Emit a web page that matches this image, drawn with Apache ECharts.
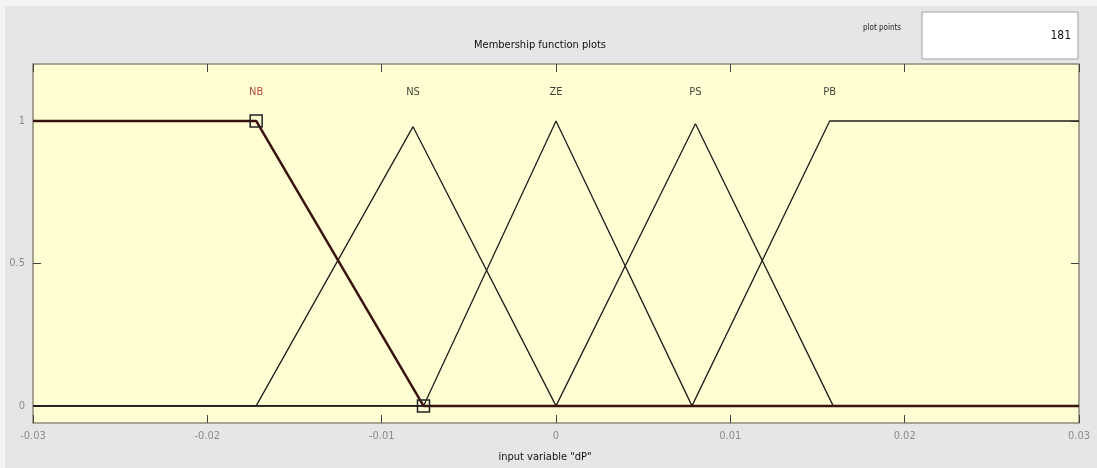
<!DOCTYPE html>
<html lang="en">
<head>
    <meta charset="UTF-8">
    <title>Membership function plots</title>
    <script src="https://cdn.jsdelivr.net/npm/echarts@6.0.0/dist/echarts.min.js"></script>
    <style>
        *{
            padding:0;
            margin:0;
        }
        html,body{
            width:100%;
            height:100%;
            background:#e6e6e6;
        }
        #main{
            width:1097px;
            height:468px;
        }
    </style>
</head>
<body>
<div id="main"></div>
<script>
    // membership functions of input "dP" (x, degree)
    var nb = [[-0.03, 1], [-0.0172, 1], [-0.0076, 0], [0.03, 0]];
    var ns = [[-0.03, 0], [-0.0172, 0], [-0.0082, 0.98], [0, 0], [0.03, 0]];
    var ze = [[-0.03, 0], [-0.0076, 0], [0, 1], [0.0078, 0], [0.03, 0]];
    var ps = [[-0.03, 0], [0, 0], [0.0080, 0.99], [0.0159, 0], [0.03, 0]];
    var pb = [[-0.03, 0], [0.0078, 0], [0.0157, 1], [0.03, 1]];
    var mfNames = ['NB', 'NS', 'ZE', 'PS', 'PB'];
    var mfLabelX = [-0.0172, -0.0082, 0, 0.0080, 0.0157];
    var xTicks = [-0.03, -0.02, -0.01, 0, 0.01, 0.02, 0.03];
    var yTicks = [0, 0.5, 1];
    var plotPoints = 181;

    var myChart = echarts.init(document.getElementById('main'));

    function mfSeries(data, name) {
        return {
            name: name,
            type: 'line',
            data: data,
            symbol: 'none',
            silent: true,
            z: 3,
            lineStyle: {color: '#1e1e1e', width: 1.3}
        };
    }

    // selected MF (NB) gets thick line + vertex squares
    var nbData = nb.map(function (p, i) {
        var inner = i > 0 && i < nb.length - 1;
        return {
            value: p,
            symbol: inner ? 'rect' : 'none',
            symbolSize: inner ? 12 : 0
        };
    });

    var labelData = mfNames.map(function (n, i) {
        var d = {value: [mfLabelX[i], 1.1], name: n};
        if (i === 0) d.label = {color: '#a0201a'}; // selected MF name in red
        return d;
    });

    var font = '"Liberation Sans Narrow", "DejaVu Sans Condensed", Arial, sans-serif';

    function xAx(pos, labels) {
        return {
            type: 'value', min: -0.03, max: 0.03, position: pos,
            axisLine: {show: false, onZero: false},
            splitLine: {show: false},
            axisTick: {show: true, inside: true, length: 8, customValues: xTicks, lineStyle: {color: '#444'}},
            axisLabel: {show: labels, customValues: xTicks, color: '#8a8a8a', fontSize: 11, fontFamily: font, margin: 8,
                formatter: function (v) { return String(+v.toFixed(2)); }}
        };
    }
    function yAx(pos, labels) {
        return {
            type: 'value', min: -0.06, max: 1.2, position: pos,
            axisLine: {show: false, onZero: false},
            splitLine: {show: false},
            axisTick: {show: true, inside: true, length: 8, customValues: yTicks, lineStyle: {color: '#444'}},
            axisLabel: {show: labels, customValues: yTicks, color: '#8a8a8a', fontSize: 11, fontFamily: font, margin: 8}
        };
    }

    option = {
        backgroundColor: '#e6e6e6',
        animation: false,
        graphic: [
            {type: 'rect', shape: {x: 0, y: 0, width: 1097, height: 6}, style: {fill: '#f4f4f4'}},
            {type: 'rect', shape: {x: 0, y: 0, width: 5, height: 468}, style: {fill: '#f4f4f4'}},
            {type: 'rect', shape: {x: 922, y: 12, width: 156, height: 47},
                style: {fill: '#ffffff', stroke: '#a0a0a0', lineWidth: 1}},
            {type: 'text', x: 1071, y: 36, style: {text: String(plotPoints), fill: '#111', font: '12px ' + font, align: 'right', verticalAlign: 'middle'}},
            {type: 'text', x: 882, y: 28, style: {text: 'plot points', fill: '#222', font: '8px ' + font, align: 'center', verticalAlign: 'middle'}},
            {type: 'text', x: 540, y: 45, style: {text: 'Membership function plots', fill: '#111', font: '11px ' + font, align: 'center', verticalAlign: 'middle'}},
            {type: 'text', x: 545, y: 457, style: {text: 'input variable "dP"', fill: '#111', font: '11px ' + font, align: 'center', verticalAlign: 'middle'}}
        ],
        grid: {
            left: 33,
            right: 18,
            top: 64,
            height: 359,
            show: true,
            backgroundColor: '#fefed2',
            borderColor: '#8a8a7a',
            borderWidth: 1.5
        },
        xAxis: [xAx('bottom', true), xAx('top', false)],
        yAxis: [yAx('left', true), yAx('right', false)],
        series: [
            mfSeries(ns, 'NS'),
            mfSeries(ze, 'ZE'),
            mfSeries(ps, 'PS'),
            mfSeries(pb, 'PB'),
            {
                name: 'NB',
                type: 'line',
                data: nbData,
                showAllSymbol: true,
                silent: true,
                z: 4,
                lineStyle: {color: '#3a1210', width: 2.5},
                itemStyle: {color: 'rgba(0,0,0,0)', borderColor: '#222', borderWidth: 1.5}
            },
            {
                type: 'scatter',
                data: labelData,
                symbolSize: 0,
                silent: true,
                label: {
                    show: true,
                    position: 'inside',
                    formatter: function (p) { return p.name; },
                    fontSize: 11,
                    fontFamily: font,
                    color: '#111'
                }
            }
        ]
    };
    myChart.setOption(option);
</script>
</body>
</html>
